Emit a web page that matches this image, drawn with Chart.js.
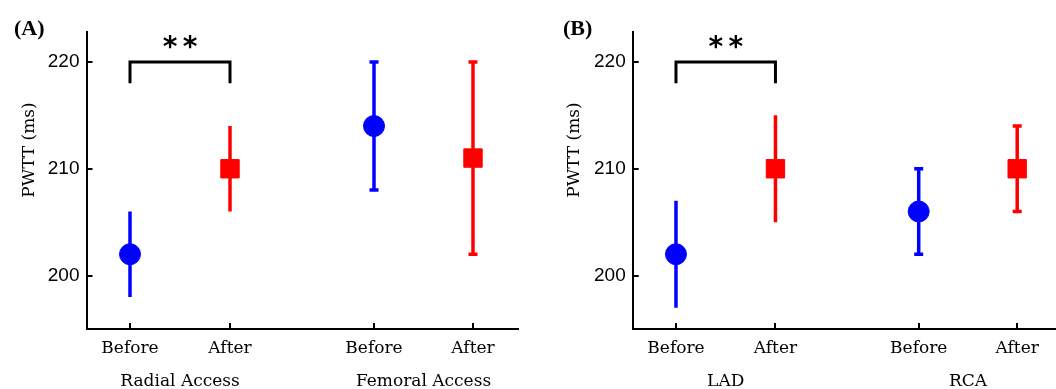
<!DOCTYPE html>
<html>
<head>
<meta charset="utf-8">
<script src="https://cdn.jsdelivr.net/npm/chart.js@4.4.0/dist/chart.umd.min.js"></script>
<style>
  body { margin: 0; background: #fff; }
  .panel { position: absolute; top: 0; width: 528px; height: 389px; }
</style>
</head>
<body>
<div class="panel" style="left:0"><canvas id="chartA"></canvas></div>
<div class="panel" style="left:528px"><canvas id="chartB"></canvas></div>
<script>
var tickLabels = ["Before", "After", "Before", "After"];
var xPositions = [1, 2, 3.44, 4.43];
var yTicks = [200, 210, 220];

var groupsA = ["Radial Access", "Femoral Access"];
var meanA = [202, 210, 214, 211];
var lowA = [198, 206, 208, 202];
var highA = [206, 214, 220, 220];

var groupsB = ["LAD", "RCA"];
var meanB = [202, 210, 206, 210];
var lowB = [197, 205, 202, 206];
var highB = [207, 215, 210, 214];

// significance bracket between the first Before / After pair
var bracketTop = 220;
var bracketFoot = 218;

var blue = "#0000ff";
var red = "#ff0000";
var colors = [blue, red, blue, red];
var hasCap = [false, false, true, true];

var serif = "'DejaVu Serif', serif";
var sans = "'Liberation Sans', Arial, sans-serif";

function buildDatasets(mean, low, high) {
  var sets = [];
  // markers first so they are drawn on top of the error bars
  sets.push({
    data: [0, 2].map(function (i) { return { x: xPositions[i], y: mean[i] }; }),
    pointStyle: "circle", pointRadius: 10.5, pointBackgroundColor: blue,
    pointBorderColor: blue, pointBorderWidth: 1, showLine: false
  });
  sets.push({
    data: [1, 3].map(function (i) { return { x: xPositions[i], y: mean[i] }; }),
    pointStyle: "rect", pointRadius: 13, pointBackgroundColor: red,
    pointBorderColor: red, pointBorderWidth: 1, showLine: false
  });
  for (var i = 0; i < mean.length; i++) {
    sets.push({
      data: [{ x: xPositions[i], y: low[i] }, { x: xPositions[i], y: high[i] }],
      showLine: true, borderColor: colors[i], borderWidth: 3.5,
      pointStyle: "line", pointRadius: hasCap[i] ? 4.5 : 0,
      pointBorderWidth: 3.5, pointBorderColor: colors[i]
    });
  }
  sets.push({
    data: [
      { x: xPositions[0], y: bracketFoot }, { x: xPositions[0], y: bracketTop },
      { x: xPositions[1], y: bracketTop }, { x: xPositions[1], y: bracketFoot }
    ],
    showLine: true, borderColor: "#000", borderWidth: 3, pointRadius: 0
  });
  return sets;
}

// inward tick marks, panel letter, y title and the ** mark
var decorations = {
  id: "decorations",
  afterDraw: function (chart) {
    var ctx = chart.ctx;
    var xs = chart.scales.x, ys = chart.scales.y;
    var area = chart.chartArea;
    var o = chart.options.plugins.decorations;
    ctx.save();
    ctx.strokeStyle = "#000";
    ctx.lineWidth = 2;
    ctx.beginPath();
    xPositions.forEach(function (v) {
      var px = Math.round(xs.getPixelForValue(v));
      ctx.moveTo(px, area.bottom);
      ctx.lineTo(px, area.bottom - 6);
    });
    yTicks.forEach(function (v) {
      var py = Math.round(ys.getPixelForValue(v));
      ctx.moveTo(area.left, py);
      ctx.lineTo(area.left + 6, py);
    });
    ctx.stroke();

    ctx.fillStyle = "#000";
    ctx.font = "bold 22px 'Liberation Serif', serif";
    ctx.textAlign = "left";
    ctx.textBaseline = "alphabetic";
    ctx.fillText(o.letter, o.letterX, 35);

    // two stars above the bracket
    ctx.font = "bold 28px 'DejaVu Sans', sans-serif";
    ctx.textAlign = "center";
    ctx.textBaseline = "middle";
    var mid = (xs.getPixelForValue(xPositions[0]) + xs.getPixelForValue(xPositions[1])) / 2;
    ctx.fillText("*", mid - 10, 49);
    ctx.fillText("*", mid + 10, 49);

    ctx.translate(o.titleX, 150);
    ctx.rotate(-Math.PI / 2);
    ctx.font = "17px " + serif;
    ctx.fillText("PWTT (ms)", 0, 0);
    ctx.restore();
  }
};

function makeChart(id, mean, low, high, groups, p) {
  var groupCenters = [
    (xPositions[0] + xPositions[1]) / 2,
    (xPositions[2] + xPositions[3]) / 2
  ];
  return new Chart(document.getElementById(id), {
    type: "scatter",
    data: { datasets: buildDatasets(mean, low, high) },
    options: {
      responsive: true,
      maintainAspectRatio: false,
      animation: false,
      events: [],
      layout: { autoPadding: false, padding: { top: 32, right: p.padRight, left: 0, bottom: 0 } },
      plugins: {
        legend: { display: false },
        tooltip: { enabled: false },
        decorations: { letter: p.letter, letterX: p.letterX, titleX: p.titleX }
      },
      scales: {
        x: {
          type: "linear", position: "bottom", weight: 0,
          min: 0.565, max: p.xMax,
          grid: { display: false, drawTicks: false },
          border: { display: true, color: "#000", width: 2 },
          afterBuildTicks: function (s) { s.ticks = xPositions.map(function (v) { return { value: v }; }); },
          afterFit: function (s) { s.height = 30; s.paddingLeft = 0; s.paddingRight = 0; },
          ticks: {
            padding: 11, color: "#000", maxRotation: 0, autoSkip: false,
            font: { family: serif, size: 17, lineHeight: 1 },
            callback: function (v, i) { return tickLabels[i]; }
          }
        },
        x2: {
          type: "linear", position: "bottom", weight: 1,
          min: 0.565, max: p.xMax,
          grid: { display: false, drawTicks: false },
          border: { display: false },
          afterBuildTicks: function (s) { s.ticks = groupCenters.map(function (v) { return { value: v }; }); },
          afterFit: function (s) { s.height = 30; s.paddingLeft = 0; s.paddingRight = 0; },
          ticks: {
            padding: 14, color: "#000", maxRotation: 0, autoSkip: false,
            font: { family: serif, size: 17, lineHeight: 1 },
            callback: function (v, i) { return groups[i]; }
          }
        },
        y: {
          type: "linear", position: "left",
          min: 195, max: 222.8,
          grid: { display: false, drawTicks: false },
          border: { display: true, color: "#000", width: 2 },
          afterBuildTicks: function (s) { s.ticks = yTicks.map(function (v) { return { value: v }; }); },
          afterFit: function (s) { s.width = p.yWidth; },
          ticks: {
            padding: 7, color: "#000",
            font: { family: sans, size: 19 }
          }
        }
      }
    },
    plugins: [decorations]
  });
}

makeChart("chartA", meanA, lowA, highA, groupsA,
  { letter: "(A)", letterX: 14, titleX: 30, yWidth: 86.5, padRight: 10, xMax: 4.88 });
makeChart("chartB", meanB, lowB, highB, groupsB,
  { letter: "(B)", letterX: 35, titleX: 47, yWidth: 104.7, padRight: 0, xMax: 4.82 });
</script>
</body>
</html>
